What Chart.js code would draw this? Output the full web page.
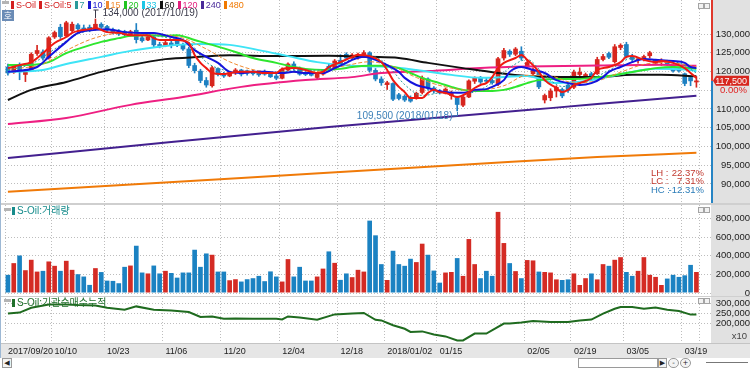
<!DOCTYPE html>
<html>
<head>
<meta charset="utf-8">
<script src="https://cdn.jsdelivr.net/npm/chart.js"></script>
<style>
  html, body { margin: 0; padding: 0; background: #fff; }
  #wrap { position: relative; width: 750px; height: 368px; overflow: hidden; }
  canvas { position: absolute; left: 0; }
  .sep { position: absolute; left: 0; width: 750px; background: #cfcfcf; }
  .title { position: absolute; font-size: 10px; line-height: 11px; white-space: nowrap;
           font-family: 'Liberation Sans', 'Noto Sans CJK KR', sans-serif; }
  .title i { display: inline-block; width: 3px; height: 8px; margin-right: 2px; vertical-align: -1px; }
  #legend { font-size: 9px; }
  #legend span { margin-right: 3px; }
  .handle { position: absolute; width: 7px; height: 3px; background: #b4b4b4; }
  .mini { position: absolute; width: 4px; height: 4px; border: 1px solid #a4a4a4; background: #f2f2f2; }
  #hoBtn { position: absolute; left: 2px; top: 10px; width: 12px; height: 11px; background: #6b8cb6;
           color: #fff; font: 9px/11px 'Noto Sans CJK KR', sans-serif; text-align: center; }
  .ctl { position: absolute; top: 358px; height: 8px; border: 1px solid #9a9a9a; background: #f4f4f4;
         font: 7px/8px 'DejaVu Sans', sans-serif; color: #222; text-align: center; }
</style>
</head>
<body>
<div id="wrap">
  <canvas id="mainChart" width="750" height="203" style="top:0"></canvas>
  <div class="sep" style="top:203px;height:2px"></div>
  <canvas id="volChart" width="750" height="91" style="top:205px"></canvas>
  <div class="sep" style="top:296px;height:1px"></div>
  <canvas id="cumChart" width="750" height="61" style="top:297px"></canvas>

  <div style="position:absolute;left:0;top:0;width:1px;height:358px;background:#9db8d4"></div>
  <div class="handle" style="left:2px;top:1px"></div>
  <div id="legend" class="title" style="left:11px;top:0"></div>
  <div id="hoBtn">호</div>
  <div class="mini" style="left:698px;top:3px"></div><div class="mini" style="left:704px;top:3px"></div>

  <div class="handle" style="left:4px;top:208px"></div>
  <div class="title" style="left:12px;top:205px;color:#178c8c"><i style="background:#178c8c"></i>S-Oil:거래량</div>
  <div class="mini" style="left:698px;top:207px"></div><div class="mini" style="left:704px;top:207px"></div>

  <div class="handle" style="left:4px;top:299px"></div>
  <div class="title" style="left:12px;top:297px;color:#1f6f2a"><i style="background:#1f6f2a"></i>S-Oil:기관순매수누적</div>
  <div class="mini" style="left:698px;top:298px"></div><div class="mini" style="left:704px;top:298px"></div>

  <div class="ctl" style="left:2px;width:8px">◀</div>
  <div class="ctl" style="left:578px;width:78px;background:#fff"></div>
  <div class="ctl" style="left:658px;width:7px">▶</div>
  <div class="ctl" style="left:668px;width:9px;border-radius:5px">-</div>
  <div class="ctl" style="left:680px;width:9px;border-radius:5px">+</div>
  <div style="position:absolute;left:706px;top:362px;width:42px;height:1px;background:#777"></div>
</div>

<script>
// trading days shown on the chart (2017/09/20 .. 2018/03/21)
const dates = [
    '09/20','09/21','09/22','09/25','09/26','09/27','09/28','09/29',
    '10/10','10/11','10/12','10/13','10/16','10/17','10/18','10/19','10/20','10/23','10/24','10/25','10/26','10/27','10/30','10/31',
    '11/01','11/02','11/03','11/06','11/07','11/08','11/09','11/10','11/13','11/14','11/15','11/16','11/17','11/20','11/21','11/22','11/23','11/24','11/27','11/28','11/29','11/30',
    '12/01','12/04','12/05','12/06','12/07','12/08','12/11','12/12','12/13','12/14','12/15','12/18','12/19','12/20','12/21','12/22','12/26','12/27','12/28',
    '01/02','01/03','01/04','01/05','01/08','01/09','01/10','01/11','01/12','01/15','01/16','01/17','01/18','01/19','01/22','01/23','01/24','01/25','01/26','01/29','01/30','01/31',
    '02/01','02/02','02/05','02/06','02/07','02/08','02/09','02/12','02/13','02/14','02/19','02/20','02/21','02/22','02/23','02/26','02/27','02/28',
    '03/02','03/05','03/06','03/07','03/08','03/09','03/12','03/13','03/14','03/15','03/16','03/19','03/20','03/21'
];
const firstIndex2018 = 65;
const tickDates = ['09/20','10/10','10/23','11/06','11/20','12/04','12/18','01/02','01/15','02/05','02/19','03/05','03/19'];

// axis tick labels
const priceTicks = [90000, 95000, 100000, 105000, 110000, 115000, 120000, 125000, 130000];
const volumeTicks = [0, 200000, 400000, 600000, 800000];
const netBuyTicks = [200000, 250000, 300000];

const open = [
    121200,119800,121500,119200,120500,124800,125200,123600,129200,131800,
    129500,130900,132400,131600,131800,131200,132600,132000,131200,130800,
    130600,129800,131000,129000,128400,129200,127200,126900,127600,128200,
    127000,126000,121600,120100,117600,116200,120800,119200,118800,119700,
    120400,120200,119900,119800,119800,119300,118800,118200,120400,122000,
    120800,119600,119400,118400,119300,121400,120600,123000,124600,123600,
    123600,124500,125000,120300,118000,116500,116800,113800,113400,113000,
    113000,114400,118000,115600,114800,114200,113600,113000,111000,113200,
    117400,118200,117600,117600,116600,123600,125400,124600,125400,121200,
    119400,120000,112400,113000,114800,115200,116400,115800,119200,118600,
    119400,119400,123200,124800,122600,126400,127200,124000,123000,123200,
    124200,122200,122600,122800,121400,120800,119400,118400,117200
];
const high = [
    122000,121800,122300,120600,125000,127000,125800,129300,130800,132600,
    133400,133200,132800,132400,132400,134000,133000,132300,131600,131200,
    131000,131000,132800,129400,129600,129600,127800,128200,128200,128600,
    127600,126500,122200,120600,118400,121400,121000,119800,120000,120800,
    120600,120400,120300,120000,120400,119800,119400,121000,122300,122600,
    121200,120000,120200,119600,120400,122000,123200,124500,125000,124800,
    124900,125600,125300,120800,118600,117400,117000,114200,113800,113500,
    114500,118800,118300,116000,115200,115600,114800,113400,113500,117800,
    118600,118700,118200,118000,123800,126200,125800,126400,126600,123000,
    121000,120400,114000,115400,116200,115600,117000,120400,121000,119600,
    119800,123800,124600,125200,127200,127400,127800,124600,123800,124400,
    125400,123200,123400,123000,121800,121200,119600,118800,118600
];
const low = [
    119000,119500,117800,117300,120200,124300,123000,123300,128800,128800,
    129300,130600,131000,130600,130600,131000,131500,130600,130000,129600,
    129400,129500,127600,127800,128200,126600,126300,126600,126300,126600,
    125600,121000,119600,117000,115800,115800,118800,118400,118600,119200,
    118800,119000,119000,118700,119000,118400,117800,118000,120200,120400,
    119000,118900,118800,117800,119000,120200,120400,121500,123200,123200,
    123300,124000,119800,117500,116300,115200,112200,112400,112000,111800,
    112600,114000,115000,114200,114000,114000,112600,109500,110600,113000,
    116800,116800,117000,116600,116200,123000,124000,124200,123000,120800,
    118800,115400,111600,112200,113200,113000,114400,115400,118000,118000,
    117800,119200,122800,123400,122200,125800,123600,122600,122200,122800,
    123600,121800,121600,121600,119800,119800,116200,116200,115800
];
const close = [
    119600,121200,119900,120200,124600,125600,123600,129000,130400,129300,
    133000,132600,131400,130800,131000,132600,131800,131000,130400,130000,
    129800,130600,128500,128200,129300,127100,126800,127700,126900,127000,
    126000,121600,120200,117600,116400,121000,119200,118800,119700,120400,
    119300,119500,119400,119100,119300,118600,118200,120600,122000,120800,
    119300,119200,119000,119300,120000,120600,122800,122000,123600,124400,
    124600,125000,120300,118000,117000,117000,112600,112800,112400,112100,
    114200,118300,115500,114800,114300,115300,114200,111200,113200,117500,
    118200,117200,117400,117000,123400,125600,124600,126000,123600,122400,
    120400,115900,113600,114800,115800,113500,115000,119800,119800,119200,
    118400,123200,124000,123800,126600,127000,124000,123200,123400,124000,
    125000,122900,122900,122000,120200,120200,116800,117500,117500
];

const volume = [
    195000,321000,403000,245000,357000,230000,238000,339000,292000,238000,
    346000,249000,202000,177000,87000,267000,225000,133000,130000,105000,
    281000,295000,508000,220000,210000,295000,210000,238000,215000,165000,
    220000,220000,465000,281000,425000,411000,230000,230000,137000,148000,
    123000,148000,159000,184000,127000,232000,177000,123000,364000,177000,
    281000,133000,133000,177000,262000,447000,324000,141000,210000,170000,
    249000,230000,778000,620000,310000,140000,454000,310000,292000,368000,
    332000,530000,411000,241000,111000,220000,226000,375000,184000,580000,
    310000,159000,238000,184000,872000,537000,321000,235000,159000,354000,
    350000,230000,226000,220000,146000,140000,146000,210000,86000,159000,
    210000,146000,310000,292000,357000,385000,226000,184000,238000,385000,
    195000,173000,86000,155000,195000,173000,190000,302000,226000
];
// R = red bar, B = blue bar
const volColor = ('BRBRRRBRRB' + 'RRBBBRBBBB' + 'BRBBRBBRBB' + 'BBBBBRBBRR' + 'BBBBBBBRRB' +
                  'BBBRRBRBBR' + 'RRBBBRBBBB' + 'RRBBBRRBRR' + 'RBBBRRBRBR' + 'RBRRRBBRRR' +
                  'BRRBRRBBRR' + 'RRRBBBBBR').split('');

// moving averages: [day index, price]
const ma5 = [[0,120900],[2,121700],[4,122500],[6,124900],[8,127600],[10,129200],[11,130300],[12,130800],[14,131300],[15,131600],
    [17,130500],[19,130300],[21,129700],[24,129700],[25,128900],[26,128400],[29,128400],[31,127600],[32,124400],[33,122300],
    [34,120900],[35,119600],[37,119300],[38,119600],[40,119900],[42,119900],[44,119600],[46,119600],[47,120700],[49,120900],
    [51,120400],[53,119600],[54,119900],[55,121200],[57,122500],[59,123900],[60,124400],[62,124100],[64,122500],[65,120400],
    [66,117700],[67,115900],[68,114500],[69,112900],[71,112900],[72,114300],[73,115100],[74,114500],[75,114300],[76,113700],
    [77,113200],[79,114500],[80,115600],[81,116400],[82,116900],[83,118500],[84,120900],[85,122300],[87,123600],[88,124400],
    [89,123100],[90,121700],[91,119900],[92,117700],[94,115600],[95,114500],[96,115100],[97,116400],[98,116900],[100,118300],
    [101,120400],[103,121200],[105,122500],[106,123900],[107,124100],[109,123100],[111,122500],[112,122800],[114,122300],
    [116,120900],[117,119600],[118,118300]];
const ma7 = [[0,120400],[4,122000],[8,126000],[12,130000],[16,131200],[20,130600],[24,129900],[28,128800],[31,127800],
    [34,122500],[37,120400],[40,119800],[45,119700],[50,120300],[55,120500],[59,123300],[62,124200],[65,121800],[68,116500],
    [71,113600],[75,114500],[79,114300],[83,117000],[86,121000],[89,123200],[92,119000],[95,116000],[99,117300],[103,120300],
    [107,123500],[111,122900],[115,122300],[118,119600]];
const ma10 = [[0,119900],[5,121200],[7,123900],[10,127900],[12,130300],[15,131100],[17,131300],[20,130500],[23,130300],
    [25,130300],[28,129200],[30,128400],[32,125700],[34,123900],[36,122300],[38,119900],[40,119600],[42,119900],[44,119900],
    [47,119600],[49,119900],[51,119600],[54,119600],[56,120900],[58,122300],[59,123100],[61,123900],[63,123100],[65,121700],
    [67,119900],[68,118300],[70,116400],[72,115600],[73,115100],[75,114500],[77,114300],[79,114500],[80,115100],[82,115300],
    [83,115900],[85,117700],[86,119900],[88,121200],[90,120400],[92,119600],[94,117700],[96,116900],[98,116400],[100,116900],
    [102,118500],[103,119900],[105,121200],[107,122500],[109,123300],[111,123100],[114,122800],[116,122300],[117,121200],[118,120900]];
const ma15 = [[0,120600],[6,122000],[10,125600],[15,129000],[20,130300],[25,130000],[30,128900],[34,126000],[38,122600],
    [43,120200],[48,119800],[53,120000],[58,121600],[62,122600],[66,121300],[70,118400],[75,115900],[80,114900],[85,116200],
    [89,119000],[93,118800],[97,117000],[101,117500],[105,119800],[109,121900],[113,122400],[118,121300]];
const ma20 = [[0,121700],[4,121700],[7,122500],[10,124900],[13,126500],[16,127900],[19,128900],[21,129500],[24,129700],
    [27,129500],[29,129700],[32,128400],[35,127100],[39,125200],[42,123600],[46,122300],[49,121200],[51,120700],[54,120400],
    [57,120700],[59,121200],[62,121500],[64,121500],[67,120900],[69,119600],[71,118300],[74,116900],[76,115900],[78,115100],
    [80,114800],[83,114800],[85,115100],[87,115900],[89,116900],[91,117700],[94,118000],[97,118000],[100,118300],[103,118800],
    [106,119600],[109,120400],[111,120900],[114,121200],[117,120900],[118,120700]];
const ma33 = [[0,119900],[6,120400],[10,122000],[16,123900],[21,125500],[27,126800],[29,127100],[33,127300],[38,127100],
    [43,125700],[48,124100],[53,122500],[59,121500],[64,121300],[70,120400],[76,119100],[81,118300],[89,118800],[94,116900],
    [100,117700],[106,119600],[111,120700],[117,120400],[118,120100]];
const ma60 = [[0,112400],[4,115100],[10,117200],[16,119900],[21,121700],[27,123300],[33,123900],[38,124300],[46,124100],
    [55,124200],[62,123900],[67,123600],[72,122300],[78,120900],[84,119600],[89,118800],[95,118500],[101,118500],[107,119100],
    [112,119100],[118,118700]];
const ma120 = [[0,106000],[10,107600],[21,111100],[30,113200],[40,115900],[51,117700],[59,118500],[64,119600],[72,120100],
    [81,120900],[89,121300],[101,121600],[112,121800],[118,121500]];
const ma240 = [[0,96900],[28,101200],[55,105200],[77,108100],[89,109700],[101,111300],[118,113500]];
const ma480 = [[0,87900],[40,91600],[80,95300],[101,97200],[118,98300]];

// institutional net buying, cumulative (axis unit x10)
const netBuy = [[0,247000],[2,252000],[4,276000],[7,293000],[10,293000],[12,290000],[15,288000],[17,276000],[20,266000],
    [22,283000],[25,266000],[28,263000],[31,255000],[33,230000],[35,233000],[37,221000],[39,223000],[42,221000],[46,221000],
    [47,218000],[48,233000],[50,228000],[53,216000],[56,243000],[59,248000],[61,250000],[63,216000],[64,213000],[66,189000],
    [68,171000],[69,155000],[71,158000],[73,143000],[75,133000],[77,113000],[78,113000],[80,147000],[82,147000],[85,197000],
    [86,197000],[88,202000],[90,210000],[93,205000],[96,205000],[98,213000],[100,217000],[102,247000],[104,271000],[105,280000],
    [107,280000],[109,271000],[111,277000],[113,266000],[115,260000],[117,242000],[118,242000]];

const legendNames = ['S-Oil', 'S-Oil:5', '7', '10', '15', '20', '33', '60', '120', '240', '480'];
const legendColors = ['#d42020', '#d42020', '#2a9a9a', '#1a1ad0', '#f08a30', '#22c522', '#1cc6e6', '#111111', '#e2207c', '#4a2a9a', '#f07800'];

const UP = '#d7261e', DOWN = '#1e80c2';
const AXIS_BG = '#e1e1e1';
const GRID = '#bdbdbd';
const FAMILY = "'Liberation Sans', Arial, sans-serif";
const Y_FONT = { family: FAMILY, size: 9.5 };
const X_FONT = { family: FAMILY, size: 9 };

const labels = dates.concat(['', '']);   // two empty slots on the right
const N = dates.length;
const tickIdx = tickDates.map(function (d) { return dates.indexOf(d); });
const gridIdx = tickIdx.concat([N]);

function fmt(v) { return Math.round(v).toLocaleString('en-US'); }
function fullDate(i) { return (i < firstIndex2018 ? '2017/' : '2018/') + dates[i]; }

function fromPoints(points) {
    const out = new Array(labels.length).fill(null);
    points.forEach(function (p) { out[p[0]] = p[1]; });
    return out;
}

function maLine(label, points, color, width, dash, order) {
    return {
        type: 'line', label: label, data: fromPoints(points),
        borderColor: color, borderWidth: width, borderDash: dash || [],
        pointRadius: 0, spanGaps: true, cubicInterpolationMode: 'monotone', order: order
    };
}

function xScale(showLabels) {
    return {
        type: 'category', offset: true,
        grid: {
            offset: true, drawTicks: false,
            color: function (ctx) { return gridIdx.indexOf(ctx.index) >= 0 ? GRID : 'rgba(0,0,0,0)'; }
        },
        border: { display: false, dash: [1, 2] },
        ticks: {
            display: showLabels, autoSkip: false, maxRotation: 0, minRotation: 0,
            align: 'start', padding: 3, color: '#222', font: X_FONT,
            callback: function (v, i) {
                if (tickIdx.indexOf(i) < 0) return '';
                return (i === 0 || i === firstIndex2018) ? fullDate(i) : dates[i];
            }
        },
        afterFit: function (s) { s.height = showLabels ? 15 : 0; s.paddingLeft = 0; s.paddingRight = 0; }
    };
}

function yScale(min, max, tickValues) {
    return {
        position: 'right', min: min, max: max,
        afterBuildTicks: function (s) {
            s.ticks = tickValues.map(function (v) { return { value: v }; });
        },
        grid: { drawTicks: false, color: GRID },
        border: { display: false, dash: [1, 2] },
        ticks: {
            autoSkip: false, padding: 3, crossAlign: 'far', color: '#222', font: Y_FONT,
            callback: function (v) { return fmt(v); }
        },
        afterFit: function (s) { s.width = 39; s.paddingTop = 0; s.paddingBottom = 0; }
    };
}

const panelBg = {
    id: 'panelBg',
    beforeDraw: function (chart) {
        const ctx = chart.ctx, a = chart.chartArea;
        ctx.save();
        ctx.fillStyle = '#fff';
        ctx.fillRect(0, 0, chart.width, chart.height);
        ctx.fillStyle = AXIS_BG;
        ctx.fillRect(a.right, 0, chart.width - a.right, chart.height);
        ctx.restore();
    }
};

const priceMarks = {
    id: 'priceMarks',
    afterDraw: function (chart) {
        const ctx = chart.ctx, a = chart.chartArea, x = chart.scales.x, y = chart.scales.y;
        const last = close[N - 1], prev = close[N - 2];
        const py = y.getPixelForValue(last);
        ctx.save();

        // current price: coloured edge, box and change
        ctx.fillStyle = '#e0382c';
        ctx.fillRect(a.right, 0, 2, py);
        ctx.fillStyle = '#2684c4';
        ctx.fillRect(a.right, py, 2, a.bottom - py);
        ctx.fillStyle = AXIS_BG;
        ctx.fillRect(a.right + 2, py - 7, chart.width, 22);
        ctx.fillStyle = '#d7261e';
        ctx.beginPath();
        ctx.moveTo(a.right + 2, py);
        ctx.lineTo(a.right + 5, py - 5);
        ctx.lineTo(chart.width - 1, py - 5);
        ctx.lineTo(chart.width - 1, py + 5);
        ctx.lineTo(a.right + 5, py + 5);
        ctx.closePath();
        ctx.fill();
        ctx.font = '9px ' + FAMILY;
        ctx.textAlign = 'right';
        ctx.textBaseline = 'middle';
        ctx.fillStyle = '#fff';
        ctx.fillText(fmt(last), chart.width - 3, py + 0.5);
        ctx.font = '9.5px ' + FAMILY;
        ctx.fillStyle = '#e02020';
        ctx.fillText(((last - prev) / prev * 100).toFixed(2) + '%', chart.width - 3, py + 10);

        // highest high / lowest low
        let hi = 0, lo = 0;
        for (let i = 1; i < N; i++) {
            if (high[i] > high[hi]) hi = i;
            if (low[i] < low[lo]) lo = i;
        }
        ctx.font = '10px ' + FAMILY;
        const hx = Math.round(x.getPixelForValue(hi)) + 0.5, hy = y.getPixelForValue(high[hi]);
        ctx.strokeStyle = '#3a3a4a';
        ctx.lineWidth = 1;
        ctx.beginPath();
        ctx.moveTo(hx, hy - 1); ctx.lineTo(hx, hy - 9);
        ctx.moveTo(hx - 2, hy - 9); ctx.lineTo(hx + 3, hy - 9);
        ctx.stroke();
        ctx.fillStyle = '#3a3a4a';
        ctx.textAlign = 'left';
        ctx.fillText(fmt(high[hi]) + ' (' + fullDate(hi) + ')', hx + 7, hy - 6);

        const lx = Math.round(x.getPixelForValue(lo)) + 0.5, ly = y.getPixelForValue(low[lo]);
        ctx.strokeStyle = '#3c80b8';
        ctx.beginPath();
        ctx.moveTo(lx, ly + 1); ctx.lineTo(lx, ly + 5); ctx.lineTo(lx - 5, ly + 5);
        ctx.stroke();
        ctx.fillStyle = '#3c80b8';
        ctx.textAlign = 'right';
        ctx.fillText(fmt(low[lo]) + ' (' + fullDate(lo) + ')', lx - 5, ly + 5);

        // range statistics
        const stats = [
            ['LH :', (high[hi] - low[lo]) / low[lo], '#c23a30'],
            ['LC :', (last - low[lo]) / low[lo], '#c23a30'],
            ['HC :', (last - high[hi]) / high[hi], '#2a7cb8']
        ];
        ctx.font = '9.5px ' + FAMILY;
        stats.forEach(function (s, k) {
            const ty = a.bottom - 30 + k * 8.5;
            ctx.fillStyle = s[2];
            ctx.textAlign = 'left';
            ctx.fillText(s[0], 651, ty);
            ctx.textAlign = 'right';
            ctx.fillText((s[1] * 100).toFixed(2) + '%', a.right - 7, ty);
        });
        ctx.restore();
    }
};

const dateStrip = {
    id: 'dateStrip',
    beforeDraw: function (chart) {
        const ctx = chart.ctx, a = chart.chartArea;
        ctx.save();
        ctx.fillStyle = '#e6e6e6';
        ctx.fillRect(0, a.bottom, chart.width, chart.height - a.bottom);
        ctx.fillStyle = '#c4c4c4';
        ctx.fillRect(0, a.bottom, chart.width, 1);
        ctx.restore();
    },
    afterDraw: function (chart) {
        const ctx = chart.ctx, a = chart.chartArea;
        ctx.save();
        ctx.font = '9.5px ' + FAMILY;
        ctx.fillStyle = '#444';
        ctx.textAlign = 'right';
        ctx.textBaseline = 'middle';
        ctx.fillText('x10', chart.width - 3, a.bottom - 7);
        ctx.restore();
    }
};

function baseOptions(padding, showDates, yOpts) {
    return {
        responsive: false, animation: false, events: [],
        layout: { padding: padding, autoPadding: false },
        plugins: { legend: { display: false }, tooltip: { enabled: false } },
        scales: { x: xScale(showDates), y: yOpts }
    };
}

function buildLegend() {
    const box = document.getElementById('legend');
    legendNames.forEach(function (name, i) {
        const s = document.createElement('span');
        s.style.color = legendColors[i];
        s.innerHTML = '<i style="background:' + legendColors[i] + '"></i>' + name;
        box.appendChild(s);
    });
}

function drawCharts() {
    const candleColors = close.map(function (c, i) { return c >= open[i] ? UP : DOWN; });

    // price panel
    new Chart(document.getElementById('mainChart').getContext('2d'), {
        type: 'bar',
        data: {
            labels: labels,
            datasets: [
                maLine('S-Oil:5', ma5, '#ee1a12', 2, null, 0),
                maLine('10', ma10, '#1414dc', 2, null, 1),
                maLine('7', ma7, '#2a9a9a', 1, [2, 2], 2),
                maLine('15', ma15, '#f08a30', 1, [4, 2], 3),
                maLine('20', ma20, '#2ee62e', 2, null, 4),
                maLine('33', ma33, '#3ee4f6', 2, null, 5),
                maLine('60', ma60, '#111111', 2, null, 6),
                maLine('120', ma120, '#ee1f82', 2, null, 7),
                maLine('240', ma240, '#43208f', 2, null, 8),
                maLine('480', ma480, '#f07a08', 2, null, 9),
                {
                    label: 'wick', data: low.map(function (l, i) { return [l, high[i]]; }),
                    backgroundColor: candleColors, barThickness: 1, grouped: false, order: 21
                },
                {
                    label: 'S-Oil', data: open.map(function (o, i) { return [o, close[i]]; }),
                    backgroundColor: candleColors, barThickness: 4, minBarLength: 1, grouped: false, order: 20
                }
            ]
        },
        options: baseOptions({ left: 5, right: 0, top: 0, bottom: 0 }, false,
            yScale(84928, 139068, priceTicks)),
        plugins: [panelBg, priceMarks]
    });

    // volume panel
    new Chart(document.getElementById('volChart').getContext('2d'), {
        type: 'bar',
        data: {
            labels: labels,
            datasets: [{
                label: '거래량', data: volume,
                backgroundColor: volColor.map(function (c) { return c === 'R' ? '#d42b24' : '#1b82c2'; }),
                barPercentage: 0.8, categoryPercentage: 1
            }]
        },
        options: baseOptions({ left: 5, right: 0, top: 0, bottom: 3 }, false,
            yScale(0, 946000, volumeTicks)),
        plugins: [panelBg]
    });

    // cumulative net buying panel with the date axis
    new Chart(document.getElementById('cumChart').getContext('2d'), {
        type: 'line',
        data: {
            labels: labels,
            datasets: [{
                label: '기관순매수누적', data: fromPoints(netBuy),
                borderColor: '#1f6b1f', borderWidth: 2, pointRadius: 0, spanGaps: true, tension: 0
            }]
        },
        options: baseOptions({ left: 5, right: 0, top: 1, bottom: 0 }, true,
            yScale(100000, 325000, netBuyTicks)),
        plugins: [panelBg, dateStrip]
    });
}

buildLegend();
drawCharts();
</script>
</body>
</html>
